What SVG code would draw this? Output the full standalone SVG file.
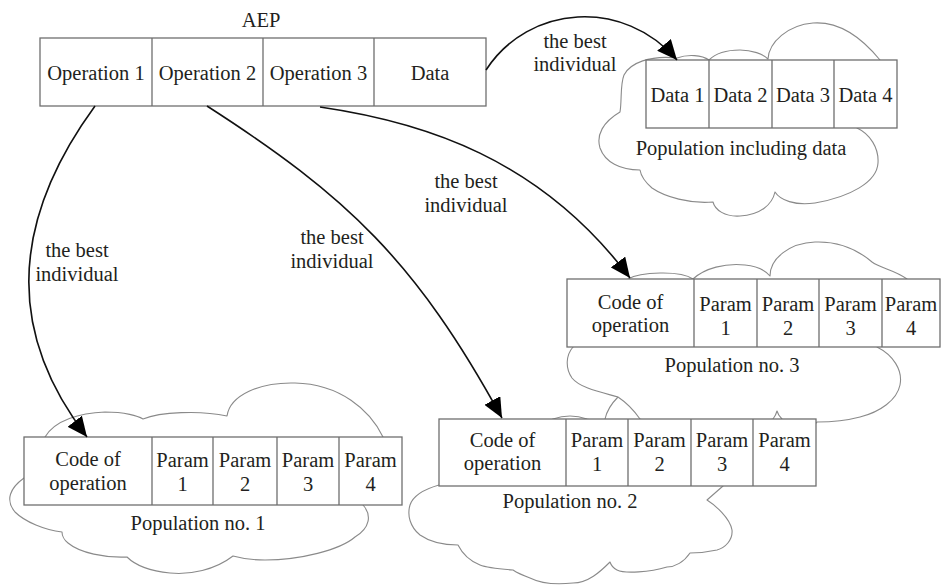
<svg xmlns="http://www.w3.org/2000/svg" width="945" height="586" viewBox="0 0 945 586">
  <style>
    text { font-family: "Liberation Serif", "DejaVu Serif", "Times New Roman", Times, serif; font-size: 20.5px; fill: #231f20; text-anchor: middle; }
    .box { fill: #ffffff; stroke: #6f6f6f; stroke-width: 1.3; }
    .div { stroke: #6f6f6f; stroke-width: 1.3; fill: none; }
    .cloud { fill: #ffffff; stroke: #8a8a8a; stroke-width: 1.1; stroke-linejoin: round; }
    .cloud-edge { fill: none; stroke: #8a8a8a; stroke-width: 1.1; }
    .link { fill: none; stroke: #111111; stroke-width: 1.6; marker-end: url(#head); }
  </style>
  <defs>
    <marker id="head" markerUnits="userSpaceOnUse" markerWidth="20" markerHeight="18" refX="20" refY="9" orient="auto" viewBox="0 0 20 18">
      <path d="M0,0 L20,9 L0,18 Z" fill="#000000"/>
    </marker>
  </defs>

  <rect width="945" height="586" fill="#ffffff"/>

  <!-- AEP chromosome -->
  <g id="aep" font-family="Liberation Serif, serif">
    <text x="261" y="27">AEP</text>
    <rect class="box" x="40" y="38" width="446" height="68"/>
    <path class="div" d="M152,38 V106 M263,38 V106 M374,38 V106"/>
    <text x="96" y="80">Operation 1</text>
    <text x="207.5" y="80">Operation 2</text>
    <text x="318.5" y="80">Operation 3</text>
    <text x="430" y="80">Data</text>
  </g>

  <!-- population holding data individuals -->
  <g id="pop-data">
    <path class="cloud" d="M677,58 C688,54 702,55 709,60 C716,53 728,50 740,50 C752,50 763,54 768,59 C769,42 788,25 813,23 C840,21 862,38 880,60 L885,100 L857,128 C870,134 879,148 878,163 C877,182 850,197 815,203 C795,206 780,200 775,192 C772,205 760,215 740,216 C725,217 715,210 713,202 C690,204 665,197 652,188 C645,182 641,176 640,170 C620,170 605,162 600,148 C596,135 603,122 620,112 C622,100 620,85 624,75 C630,63 650,55 677,58 Z"/>
    <rect class="box" x="646" y="60" width="251" height="68"/>
    <path class="div" d="M709,60 V128 M772,60 V128 M834,60 V128"/>
    <text x="677.5" y="102">Data 1</text>
    <text x="740.5" y="102">Data 2</text>
    <text x="803" y="102">Data 3</text>
    <text x="865.5" y="102">Data 4</text>
    <text x="741" y="155">Population including data</text>
  </g>

  <!-- population no. 3 -->
  <g id="pop3">
    <path class="cloud" d="M628,279 C640,272 680,270 693,279 C705,268 725,263 745,265 C757,266 765,270 770,276 C770,258 790,243 815,242 C840,241 858,250 872,262 C880,268 895,270 907,279 L900,300 L877,347 C893,355 903,370 900,385 C897,400 880,412 860,417 C845,421 830,422 817,422 L800,440 L782,419 Q778,415 777,411 Q776,415 773,419 L700,440 L640,419 C633,409 624,401 618,397 C600,392 580,388 572,378 C565,368 566,355 573,347 L600,320 Z"/>
    <path class="cloud-edge" d="M618,397 C612,403 607,410 605,419"/>
    <rect class="box" x="567" y="279" width="373" height="68"/>
    <path class="div" d="M694,279 V347 M757,279 V347 M819,279 V347 M882,279 V347"/>
    <text x="630.5" y="309">Code of</text>
    <text x="630.5" y="332">operation</text>
    <text x="725.5" y="311">Param</text>
    <text x="725.5" y="335">1</text>
    <text x="788" y="311">Param</text>
    <text x="788" y="335">2</text>
    <text x="850.5" y="311">Param</text>
    <text x="850.5" y="335">3</text>
    <text x="911" y="311">Param</text>
    <text x="911" y="335">4</text>
    <text x="732" y="372">Population no. 3</text>
  </g>

  <!-- population no. 2 -->
  <g id="pop2">
    <path class="cloud" d="M553,419 Q570,413 587,419 L700,450 L723,486 L707,500 C715,505 730,518 732,530 C733,540 725,548 717,550 C708,552 698,553 690,553 C684,562 675,567 667,567 C650,572 625,574 617,570 C613,568 611,565 610,562 C600,572 588,583 573,583 C555,585 540,583 530,578 C522,575 516,572 513,570 C500,569 485,567 480,565 C470,561 463,555 458,545 C445,545 430,542 420,535 C410,527 407,515 410,505 C413,496 425,489 439,485 L480,450 Z"/>
    <rect class="box" x="439" y="419" width="377" height="67"/>
    <path class="div" d="M566,419 V486 M628,419 V486 M691,419 V486 M753,419 V486"/>
    <text x="502.5" y="447">Code of</text>
    <text x="502.5" y="470">operation</text>
    <text x="597" y="447">Param</text>
    <text x="597" y="471">1</text>
    <text x="659.5" y="447">Param</text>
    <text x="659.5" y="471">2</text>
    <text x="722" y="447">Param</text>
    <text x="722" y="471">3</text>
    <text x="784.5" y="447">Param</text>
    <text x="784.5" y="471">4</text>
    <text x="570" y="508">Population no. 2</text>
  </g>

  <!-- population no. 1 -->
  <g id="pop1">
    <path class="cloud" d="M45,437 C55,420 80,413 105,412 C125,412 138,416 143,419 C160,412 200,410 227,416 C230,395 260,382 295,383 C340,384 370,410 383,437 L390,470 L363,505 C372,515 370,528 355,537 C340,550 300,560 265,560 C252,560 240,558 233,556 C215,570 190,575 170,573 C150,571 135,565 127,557 C105,558 80,553 68,543 C64,540 62,535 62,532 C45,530 25,522 15,512 C5,500 10,488 24,478 L40,470 Z"/>
    <rect class="box" x="24" y="437" width="378" height="68"/>
    <path class="div" d="M152,437 V505 M213,437 V505 M277,437 V505 M339,437 V505"/>
    <text x="88" y="466">Code of</text>
    <text x="88" y="490">operation</text>
    <text x="182.5" y="467">Param</text>
    <text x="182.5" y="491">1</text>
    <text x="245" y="467">Param</text>
    <text x="245" y="491">2</text>
    <text x="308" y="467">Param</text>
    <text x="308" y="491">3</text>
    <text x="370.5" y="467">Param</text>
    <text x="370.5" y="491">4</text>
    <text x="198" y="530">Population no. 1</text>
  </g>

  <!-- transfers of the best individual -->
  <g id="connectors">
    <path class="link" d="M95,106 C11,221 5,331 87,437"/>
    <path class="link" d="M207,106 C347,196 416,261 502,418"/>
    <path class="link" d="M320,107 C423,122 540,158 630,278"/>
    <path class="link" d="M486,70 C529,4 624,-2 677,60"/>
    <text x="77" y="257">the best</text>
    <text x="77" y="281">individual</text>
    <text x="332" y="244">the best</text>
    <text x="332" y="268">individual</text>
    <text x="466" y="188">the best</text>
    <text x="466" y="212">individual</text>
    <text x="575" y="48">the best</text>
    <text x="575" y="71">individual</text>
  </g>
</svg>
